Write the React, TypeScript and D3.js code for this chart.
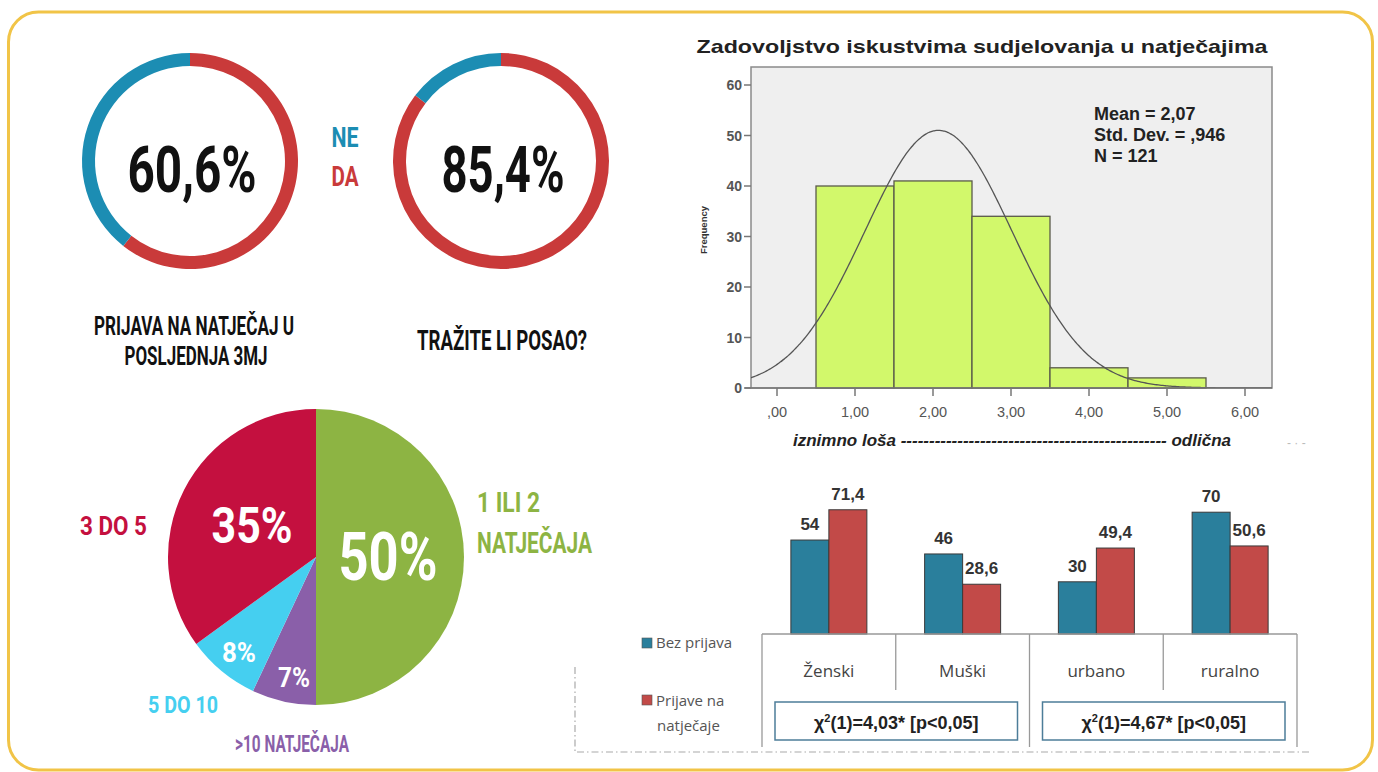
import React from "react";
import * as d3 from "d3";

// --- donuts (top left) ---
const donutLabels = ["DA", "NE"];
const donutA = [60.6, 39.4]; // prijava na natječaj u posljednja 3mj
const donutB = [85.4, 14.6]; // tražite li posao?

// --- pie (bottom left) ---
const pieLabels = ["1 ILI 2 NATJEČAJA", ">10 NATJEČAJA", "5 DO 10", "3 DO 5"];
const pieValues = [50, 7, 8, 35];

// --- histogram (top right) ---
const binStarts = [0.5, 1.5, 2.5, 3.5, 4.5];
const binCounts = [40, 41, 34, 4, 2];
const histMean = 2.07;
const histSd = 0.946;
const histN = 121;
const histYTicks = [0, 10, 20, 30, 40, 50, 60];
const histXTicks = [0, 1, 2, 3, 4, 5, 6];
const histXLabels = [",00", "1,00", "2,00", "3,00", "4,00", "5,00", "6,00"];

// --- grouped bars (bottom right) ---
const barCategories = ["Ženski", "Muški", "urbano", "ruralno"];
const barSeries = ["Bez prijava", "Prijave na natječaje"];
const bezPrijava = [54, 46, 30, 70];
const prijave = [71.4, 28.6, 49.4, 50.6];
const chiStats = ["4,03", "4,67"];

const BLUE = "#1c8db3";
const RED = "#c93a3a";
const condensed = "Roboto, 'DejaVu Sans', sans-serif";

// condensed headline text squeezed to the width measured on the picture
const CText = ({ x, y, size, width, fill, anchor = "middle", children }: any) => (
  <text
    x={x}
    y={y}
    fontSize={size}
    fontFamily={condensed}
    fontWeight={700}
    fill={fill}
    textAnchor={anchor}
    textLength={width}
    lengthAdjust="spacingAndGlyphs"
  >
    {children}
  </text>
);

const Donut = ({ cx, cy, values, big, bigWidth }: any) => {
  const arcs = d3.pie<number>().sort(null)(values);
  const arc = d3.arc<d3.PieArcDatum<number>>().innerRadius(95).outerRadius(108);
  return (
    <g>
      <g transform={`translate(${cx},${cy})`}>
        {arcs.map((a, i) => (
          <path key={donutLabels[i]} d={arc(a) || ""} fill={i === 0 ? RED : BLUE} />
        ))}
      </g>
      <CText x={cx + 2} y={cy + 31} size={64} width={bigWidth} fill="#111">
        {big}
      </CText>
    </g>
  );
};

const PieChart = () => {
  const cx = 316,
    cy = 557,
    r = 148;
  const colors = ["#8db443", "#8a5fa9", "#45cff0", "#c4103f"];
  const arcs = d3.pie<number>().sort(null)(pieValues);
  const arc = d3.arc<d3.PieArcDatum<number>>().innerRadius(0).outerRadius(r);
  // inner percentage labels: [dx, dy, size, width]
  const inner = [
    [72, 23, 66, 99],
    [-22, 130, 27, 32],
    [-77, 105, 28, 34],
    [-64, -14, 50, 81],
  ];
  return (
    <g>
      <g transform={`translate(${cx},${cy})`}>
        {arcs.map((a, i) => (
          <path key={pieLabels[i]} d={arc(a) || ""} fill={colors[i]} />
        ))}
      </g>
      {pieValues.map((v, i) => (
        <CText key={i} x={cx + inner[i][0]} y={cy + inner[i][1]} size={inner[i][2]} width={inner[i][3]} fill="#fff">
          {v + "%"}
        </CText>
      ))}
      <CText x={477} y={512} size={28} width={63} fill={colors[0]} anchor="start">
        1 ILI 2
      </CText>
      <CText x={477} y={553} size={30} width={115} fill={colors[0]} anchor="start">
        NATJEČAJA
      </CText>
      <CText x={235} y={752} size={23} width={114} fill={colors[1]} anchor="start">
        {pieLabels[1]}
      </CText>
      <CText x={148} y={713} size={24} width={70} fill={colors[2]} anchor="start">
        {pieLabels[2]}
      </CText>
      <CText x={80} y={535} size={26} width={67} fill={colors[3]} anchor="start">
        {pieLabels[3]}
      </CText>
    </g>
  );
};

const Histogram = () => {
  const left = 751,
    right = 1272,
    top = 67,
    bottom = 388;
  const x = d3.scaleLinear().domain([0, 6]).range([777, 1245]);
  const y = d3.scaleLinear().domain([0, 60]).range([bottom, 85]);
  const xMin = x.invert(left),
    xMax = x.invert(right);
  // fitted normal curve from the reported mean / sd / N
  const pdf = (v: number) =>
    (histN / (histSd * Math.sqrt(2 * Math.PI))) * Math.exp(-0.5 * ((v - histMean) / histSd) ** 2);
  const curvePts = d3.range(xMin, xMax + 0.01, 0.02).map((v) => [v, pdf(v)] as [number, number]);
  const line = d3
    .line<[number, number]>()
    .x((d) => x(d[0]))
    .y((d) => y(d[1]))
    .curve(d3.curveBasis);
  const font = "'Liberation Sans', Arial, sans-serif";
  return (
    <g fontFamily={font}>
      <text x={982} y={53} fontSize={19} fontWeight={700} textAnchor="middle" fill="#222" textLength={571} lengthAdjust="spacingAndGlyphs">
        Zadovoljstvo iskustvima sudjelovanja u natječajima
      </text>
      <rect x={left} y={top} width={right - left} height={bottom - top} fill="#efefef" stroke="#8a8a8a" strokeWidth={1.5} />
      {binStarts.map((b, i) => (
        <rect
          key={b}
          x={x(b)}
          y={y(binCounts[i])}
          width={x(b + 1) - x(b)}
          height={bottom - y(binCounts[i])}
          fill="#d2f86b"
          stroke="#5a5a4a"
          strokeWidth={1.3}
        />
      ))}
      <clipPath id="plotClip">
        <rect x={left} y={top} width={right - left} height={bottom - top} />
      </clipPath>
      <path d={line(curvePts) || ""} fill="none" stroke="#555" strokeWidth={1.3} clipPath="url(#plotClip)" />
      <line x1={745} x2={right} y1={bottom} y2={bottom} stroke="#777" strokeWidth={1.5} />
      {histYTicks.map((t) => (
        <g key={t}>
          <line x1={744} x2={left} y1={y(t)} y2={y(t)} stroke="#777" strokeWidth={1.5} />
          <text x={742} y={y(t) + 5} fontSize={14} fontWeight={700} fill="#555" textAnchor="end">
            {t}
          </text>
        </g>
      ))}
      {histXTicks.map((t, i) => (
        <g key={t}>
          <line x1={x(t)} x2={x(t)} y1={bottom} y2={bottom + 8} stroke="#777" strokeWidth={1.5} />
          <text x={x(t)} y={417} fontSize={14.5} fill="#555" textAnchor="middle">
            {histXLabels[i]}
          </text>
        </g>
      ))}
      <text transform="translate(707,230) rotate(-90)" fontSize={9.5} fontWeight={700} fill="#333" textAnchor="middle">
        Frequency
      </text>
      <g fontSize={18} fontWeight={700} fill="#222">
        <text x={1094} y={120}>Mean = {String(histMean).replace(".", ",")}</text>
        <text x={1094} y={141}>Std. Dev. = {String(histSd).replace("0.", ",")}</text>
        <text x={1094} y={162}>N = {histN}</text>
      </g>
      <text x={793} y={446} fontSize={17} fontWeight={700} fontStyle="italic" fill="#222" textLength={438} lengthAdjust="spacing">
        iznimno loša ----------------------------------------------- odlična
      </text>
      <text x={1287} y={447} fontSize={12} fill="#bbb">
        - · -
      </text>
    </g>
  );
};

const GroupedBars = () => {
  const base = 634;
  const x0 = d3.scaleBand().domain(barCategories).range([762, 1297]);
  const x1 = d3.scaleBand().domain(barSeries).range([0, x0.bandwidth()]).paddingOuter(0.76);
  const y = d3.scaleLinear().domain([0, 100]).range([base, base - 174]);
  const series = [bezPrijava, prijave];
  const colors = ["#2a7f9c", "#c24a48"];
  const fmt = (v: number) => String(v).replace(".", ",");
  const font = "'Open Sans', 'Liberation Sans', sans-serif";
  const pairs = [
    [barCategories[0], barCategories[1]],
    [barCategories[2], barCategories[3]],
  ];
  return (
    <g fontFamily={font}>
      {barCategories.map((c, ci) => (
        <g key={c}>
          {series.map((s, si) => (
            <rect
              key={barSeries[si]}
              x={(x0(c) || 0) + (x1(barSeries[si]) || 0)}
              y={y(s[ci])}
              width={x1.bandwidth()}
              height={base - y(s[ci])}
              fill={colors[si]}
              stroke="#3a3a3a"
              strokeWidth={1}
            />
          ))}
          {series.map((s, si) => (
            <text
              key={"l" + si}
              x={(x0(c) || 0) + (x1(barSeries[si]) || 0) + x1.bandwidth() / 2}
              y={y(s[ci]) - 10}
              fontSize={17}
              fontWeight={700}
              fill="#333"
              textAnchor="middle"
              fontFamily="'Liberation Sans', Arial, sans-serif"
            >
              {fmt(s[ci])}
            </text>
          ))}
          <text x={(x0(c) || 0) + x0.bandwidth() / 2} y={677} fontSize={17} fill="#444" textAnchor="middle">
            {c}
          </text>
        </g>
      ))}
      {/* table lines */}
      <line x1={762} x2={1297} y1={base} y2={base} stroke="#999" strokeWidth={1.3} />
      {[...barCategories.map((c) => x0(c) || 0), 1297].map((xx, i) => (
        <line key={i} x1={xx} x2={xx} y1={base} y2={i % 2 === 0 ? 747 : 690} stroke="#999" strokeWidth={1.3} />
      ))}
      {pairs.map((p, i) => {
        const bx = (x0(p[0]) || 0) + 13;
        const bw = (x0(p[1]) || 0) + x0.bandwidth() - 12 - bx;
        return (
          <g key={i}>
            <rect x={bx} y={702} width={bw} height={38} fill="#fff" stroke="#4d7d99" strokeWidth={1.5} />
            <text x={bx + bw / 2} y={729} fontSize={18} fontWeight={700} fill="#222" textAnchor="middle" fontFamily="'Liberation Sans', Arial, sans-serif">
              χ<tspan fontSize={11} dy={-7}>2</tspan>
              <tspan dy={7}>(1)={chiStats[i]}* [p&lt;0,05]</tspan>
            </text>
          </g>
        );
      })}
      {/* legend */}
      <rect x={642} y={638} width={10} height={10} fill={colors[0]} stroke="#555" strokeWidth={0.6} />
      <text x={656} y={648} fontSize={15} fill="#555">
        Bez prijava
      </text>
      <rect x={642} y={695} width={10} height={10} fill={colors[1]} stroke="#555" strokeWidth={0.6} />
      <text x={656} y={706} fontSize={15} fill="#555">
        Prijave na
      </text>
      <text x={657} y={731} fontSize={15} fill="#555">
        natječaje
      </text>
      {/* dash-dot guides */}
      <path d="M575,667 L575,752 L1310,752" fill="none" stroke="#aaa" strokeWidth={1.2} strokeDasharray="7,3,1.5,3" />
    </g>
  );
};

export default function App() {
  return (
    <svg
      width={1378}
      height={772}
      style={{ position: "absolute", left: 0, top: 0, background: "#fff" }}
      xmlns="http://www.w3.org/2000/svg"
    >
      <rect x={8.5} y={12} width={1364} height={758} rx={30} fill="#fff" stroke="#f1c447" strokeWidth={3} />
      <Donut cx={190} cy={161} values={donutA} big="60,6%" bigWidth={129} />
      <Donut cx={501} cy={161} values={donutB} big="85,4%" bigWidth={123} />
      <CText x={345} y={147} size={27} width={27} fill={BLUE}>
        {donutLabels[1]}
      </CText>
      <CText x={345} y={186} size={27} width={27} fill={RED}>
        {donutLabels[0]}
      </CText>
      <CText x={194} y={335} size={26} width={200} fill="#111">
        PRIJAVA NA NATJEČAJ U
      </CText>
      <CText x={196} y={365} size={26} width={143} fill="#111">
        POSLJEDNJA 3MJ
      </CText>
      <CText x={502} y={350} size={27} width={170} fill="#111">
        TRAŽITE LI POSAO?
      </CText>
      <PieChart />
      <Histogram />
      <GroupedBars />
    </svg>
  );
}
